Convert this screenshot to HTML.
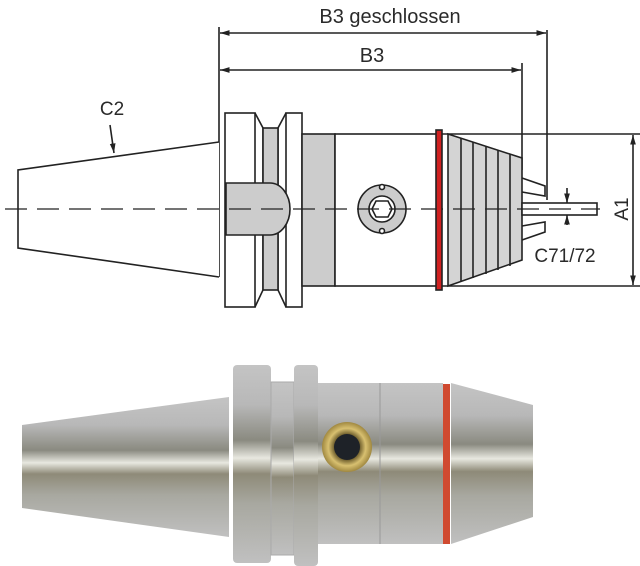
<!DOCTYPE html>
<html><head><meta charset="utf-8"><style>
html,body{margin:0;padding:0;background:#fff;}
svg{display:block;}
text{font-family:"Liberation Sans",sans-serif;fill:#2a2a2a;}
</style></head><body>
<svg width="640" height="566" viewBox="0 0 640 566" xmlns="http://www.w3.org/2000/svg">
<defs>
<linearGradient id="m" x1="0" y1="0" x2="0" y2="1">
<stop offset="0" stop-color="#c4c4c4"/><stop offset="0.2" stop-color="#b8b8b8"/>
<stop offset="0.38" stop-color="#8a8a80"/><stop offset="0.47" stop-color="#e8e8e0"/>
<stop offset="0.55" stop-color="#8e8a78"/><stop offset="0.7" stop-color="#a8a8a0"/>
<stop offset="1" stop-color="#c0c0c0"/></linearGradient>
<radialGradient id="br"><stop offset="0.5" stop-color="#6a5a2a"/><stop offset="0.75" stop-color="#d8c070"/><stop offset="1" stop-color="#a08840"/></radialGradient>
<marker id="a" viewBox="0 0 10 10" refX="10" refY="5" markerWidth="6" markerHeight="6" orient="auto-start-reverse"><path d="M0,2 L10,5 L0,8z" fill="#222"/></marker>
</defs>
<g stroke="#222" stroke-width="1.6" fill="none">
<line x1="219" y1="27" x2="219" y2="277"/>
<line x1="547" y1="30" x2="547" y2="200"/>
<line x1="522" y1="63" x2="522" y2="170"/>
<line x1="220" y1="33" x2="546" y2="33" marker-start="url(#a)" marker-end="url(#a)"/>
<line x1="220" y1="70" x2="521" y2="70" marker-start="url(#a)" marker-end="url(#a)"/>
<path d="M219,142 L18,170 L18,248 L219,277" fill="#fff"/>
<line x1="110" y1="125" x2="114" y2="153" marker-end="url(#a)"/>
<rect x="225" y="113" width="30" height="194" fill="#fff"/>
<path d="M255,113 L263,128 L263,290 L255,307 M286,113 L278,128 L278,290 L286,307"/>
<rect x="263" y="128" width="15" height="162" fill="#ccc"/>
<rect x="286" y="113" width="16" height="194" fill="#fff"/>
<path d="M226,183 L270,183 A20,26 0 0 1 270,235 L226,235 Z" fill="#ccc"/>
<rect x="302" y="134" width="33" height="152" fill="#ccc"/>
<rect x="335" y="134" width="102" height="152" fill="#fff"/>
<line x1="437" y1="134" x2="640" y2="134"/>
<line x1="437" y1="286" x2="640" y2="286"/>
<path d="M448,134 L522,158 L522,260 L448,286 Z" fill="#d4d4d4"/>
<path d="M461,138 V282 M473,142 V278 M486,146 V274 M498,150 V270 M510,154 V266"/>
<path d="M522,178 L545,186 L545,196 L522,192 M522,240 L545,232 L545,222 L522,226"/>
<rect x="522" y="203" width="75" height="12" fill="#fff"/>
<line x1="567" y1="188" x2="567" y2="203" marker-end="url(#a)"/>
<line x1="567" y1="225" x2="567" y2="215" marker-end="url(#a)"/>
<line x1="633" y1="135" x2="633" y2="285" marker-start="url(#a)" marker-end="url(#a)"/>
<circle cx="382" cy="209" r="24" fill="#ccc"/>
<circle cx="382" cy="209" r="13" fill="#fff"/>
<path d="M376,201 L388,201 L392,209 L388,217 L376,217 L372,209 Z"/>
<circle cx="382" cy="187" r="2.5" fill="#fff"/><circle cx="382" cy="231" r="2.5" fill="#fff"/>
<line x1="5" y1="209" x2="600" y2="209" stroke-dasharray="22,10" stroke-width="1.2"/>
<rect x="436" y="130" width="6" height="160" fill="#d02020"/>
</g>
<rect x="437.5" y="131" width="3" height="158" fill="#d02020"/>
<text x="390" y="23" font-size="20" text-anchor="middle">B3 geschlossen</text>
<text x="372" y="62" font-size="20" text-anchor="middle">B3</text>
<text x="112" y="115" font-size="19" text-anchor="middle">C2</text>
<text x="565" y="262" font-size="19" text-anchor="middle">C71/72</text>
<text x="628" y="209" font-size="19" text-anchor="middle" transform="rotate(-90 628 209)">A1</text>
<path d="M229,397 L22,425 L22,508 L229,537 Z" fill="url(#m)"/>
<rect x="233" y="365" width="38" height="198" rx="4" fill="url(#m)"/>
<rect x="271" y="382" width="23" height="173" fill="url(#m)" stroke="#aaa"/>
<rect x="294" y="365" width="24" height="201" rx="4" fill="url(#m)"/>
<rect x="318" y="383" width="125" height="161" fill="url(#m)"/>
<line x1="380" y1="383" x2="380" y2="544" stroke="#999"/>
<path d="M451,383 L533,405 L533,517 L451,544 Z" fill="url(#m)"/>
<rect x="443" y="384" width="7" height="160" fill="#d04a30"/>
<circle cx="347" cy="447" r="25" fill="url(#br)"/>
<circle cx="347" cy="447" r="13" fill="#1e2228"/>
</svg>
</body></html>
